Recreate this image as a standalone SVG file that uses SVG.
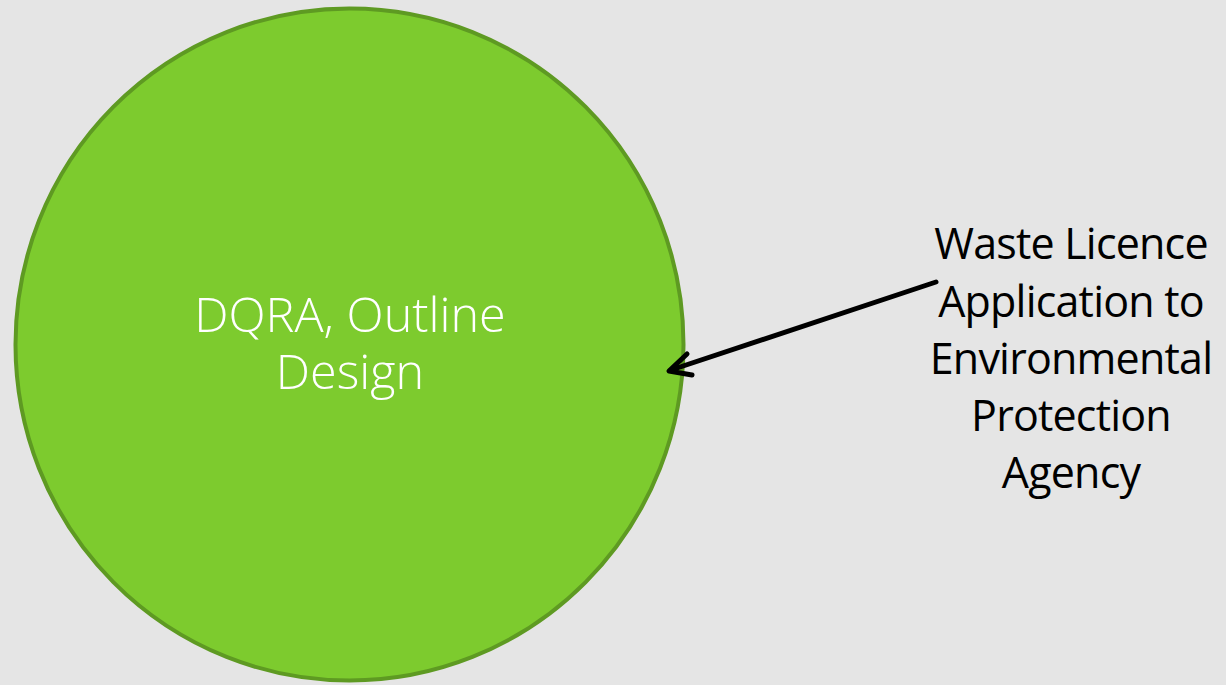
<svg xmlns="http://www.w3.org/2000/svg" width="1226" height="685" viewBox="0 0 1226 685">
<style>
.lbl{font-family:"Open Sans","Liberation Sans",sans-serif;text-anchor:middle}
.in{fill:#ffffff;font-size:48.5px;font-weight:300}
.out{fill:#000000;font-size:43px;font-weight:400;letter-spacing:-0.8px}
.conn{stroke:#000;stroke-width:5;fill:none;stroke-linecap:round;stroke-linejoin:round}
</style>
<rect width="1226" height="685" fill="#e5e5e5"/>
<g id="circle">
<ellipse cx="349.5" cy="344.5" rx="334" ry="336" fill="#7dcb2e" stroke="#5e9a22" stroke-width="4"/>
<text class="lbl in" x="350" y="332">DQRA, Outline</text>
<text class="lbl in" x="350" y="389">Design</text>
</g>
<g id="label">
<text class="lbl out" x="1071" y="259">Waste Licence</text>
<text class="lbl out" x="1071" y="317">Application to</text>
<text class="lbl out" x="1071" y="374">Environmental</text>
<text class="lbl out" x="1071" y="431">Protection</text>
<text class="lbl out" x="1071" y="488">Agency</text>
</g>
<g id="connectors">
<line class="conn" x1="936" y1="282" x2="671" y2="370"/>
<polyline class="conn" points="687,354 669,371 692,375"/>
</g>
</svg>
